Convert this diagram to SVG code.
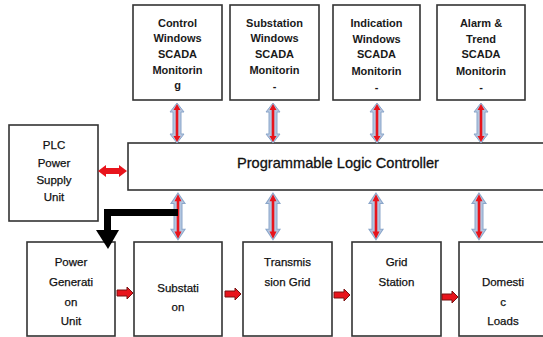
<svg xmlns="http://www.w3.org/2000/svg" width="543" height="337" viewBox="0 0 543 337">
<style>
.box{fill:#fff;stroke:#333;stroke-width:1.6}
.tb{font-family:"Liberation Sans",Arial,sans-serif;font-size:11px;font-weight:bold;fill:#1a1a1a;text-anchor:middle}
.t{font-family:"Liberation Sans",Arial,sans-serif;font-size:11.5px;fill:#111;stroke:#111;stroke-width:0.25;text-anchor:middle}
.big{font-family:"Liberation Sans",Arial,sans-serif;font-size:14.6px;fill:#111;stroke:#111;stroke-width:0.3;text-anchor:middle}
.blue{fill:#b3c6e0;stroke:#8ba6ca;stroke-width:1}
.red{fill:#e8141c}
.redo{fill:#e8141c;stroke:#7a1010;stroke-width:1}
</style>
<defs>
<g id="vdbl">
<polygon class="blue" points="0,0 7,9 4,9 4,31 7,31 0,40 -7,31 -4,31 -4,9 -7,9"/>
<polygon class="red" points="0,1 3.5,7 1.3,7 1.3,33 3.5,33 0,39 -3.5,33 -1.3,33 -1.3,7 -3.5,7"/>
</g>
<g id="rarrow">
<polygon class="redo" points="0,-3 10,-3 10,-6 16,0 10,6 10,3 0,3"/>
</g>
</defs>

<g id="n_control">
<rect class="box" x="133" y="5" width="89" height="95"/>
<text class="tb" x="177.5" y="27">Control</text>
<text class="tb" x="177.5" y="42">Windows</text>
<text class="tb" x="177.5" y="58">SCADA</text>
<text class="tb" x="177.5" y="74">Monitorin</text>
<text class="tb" x="177.5" y="89">g</text>
</g>
<g id="n_substation_win">
<rect class="box" x="230" y="5" width="89" height="95"/>
<text class="tb" x="274.5" y="27">Substation</text>
<text class="tb" x="274.5" y="42">Windows</text>
<text class="tb" x="274.5" y="58">SCADA</text>
<text class="tb" x="274.5" y="74">Monitorin</text>
<text class="tb" x="274.5" y="90">-</text>
</g>
<g id="n_indication">
<rect class="box" x="333" y="5" width="87" height="95"/>
<text class="tb" x="376.5" y="27">Indication</text>
<text class="tb" x="376.5" y="43">Windows</text>
<text class="tb" x="376.5" y="58">SCADA</text>
<text class="tb" x="376.5" y="75">Monitorin</text>
<text class="tb" x="376.5" y="91">-</text>
</g>
<g id="n_alarm">
<rect class="box" x="437" y="5" width="88" height="95"/>
<text class="tb" x="481" y="27">Alarm &amp;</text>
<text class="tb" x="481" y="43">Trend</text>
<text class="tb" x="481" y="58">SCADA</text>
<text class="tb" x="481" y="75">Monitorin</text>
<text class="tb" x="481" y="91">-</text>
</g>

<g id="n_psu">
<rect class="box" x="9" y="125" width="89" height="96"/>
<text class="t" x="54" y="149">PLC</text>
<text class="t" x="54" y="167">Power</text>
<text class="t" x="54" y="184">Supply</text>
<text class="t" x="54" y="201">Unit</text>
</g>
<g id="n_plc">
<rect class="box" x="128" y="143" width="420" height="47"/>
<text class="big" x="338" y="168">Programmable Logic Controller</text>
</g>

<g id="n_gen">
<rect class="box" x="27" y="242" width="88" height="94"/>
<text class="t" x="71" y="266">Power</text>
<text class="t" x="71" y="286">Generati</text>
<text class="t" x="71" y="306">on</text>
<text class="t" x="71" y="325">Unit</text>
</g>
<g id="n_sub">
<rect class="box" x="134" y="242" width="88" height="94"/>
<text class="t" x="178" y="292">Substati</text>
<text class="t" x="178" y="311">on</text>
</g>
<g id="n_trans">
<rect class="box" x="243" y="242" width="89" height="94"/>
<text class="t" x="287.5" y="266">Transmis</text>
<text class="t" x="287.5" y="286">sion Grid</text>
</g>
<g id="n_grid">
<rect class="box" x="352" y="242" width="89" height="94"/>
<text class="t" x="396.5" y="266">Grid</text>
<text class="t" x="396.5" y="286">Station</text>
</g>
<g id="n_dom">
<rect class="box" x="459" y="242" width="90" height="94"/>
<text class="t" x="503" y="286">Domesti</text>
<text class="t" x="503" y="306">c</text>
<text class="t" x="503" y="325">Loads</text>
</g>

<g id="connectors">
<use href="#vdbl" x="177" y="103"/>
<use href="#vdbl" x="273" y="103"/>
<use href="#vdbl" x="377" y="103"/>
<use href="#vdbl" x="481" y="103"/>
<use href="#vdbl" transform="translate(178,193) scale(1,1.17)"/>
<use href="#vdbl" transform="translate(273,193) scale(1,1.17)"/>
<use href="#vdbl" transform="translate(376,193) scale(1,1.17)"/>
<use href="#vdbl" transform="translate(479,193) scale(1,1.17)"/>
<polygon class="red" points="98,171 106,165 106,168 119,168 119,165 127,171 119,177 119,174 106,174 106,177"/>
<path d="M178,212.5 H107.5 V233" fill="none" stroke="#000" stroke-width="7"/>
<polygon fill="#000" points="96,230 119,230 108,249"/>
<use href="#rarrow" x="117" y="293"/>
<use href="#rarrow" x="225" y="294"/>
<use href="#rarrow" x="334" y="295"/>
<use href="#rarrow" x="442" y="297"/>
</g>
</svg>
